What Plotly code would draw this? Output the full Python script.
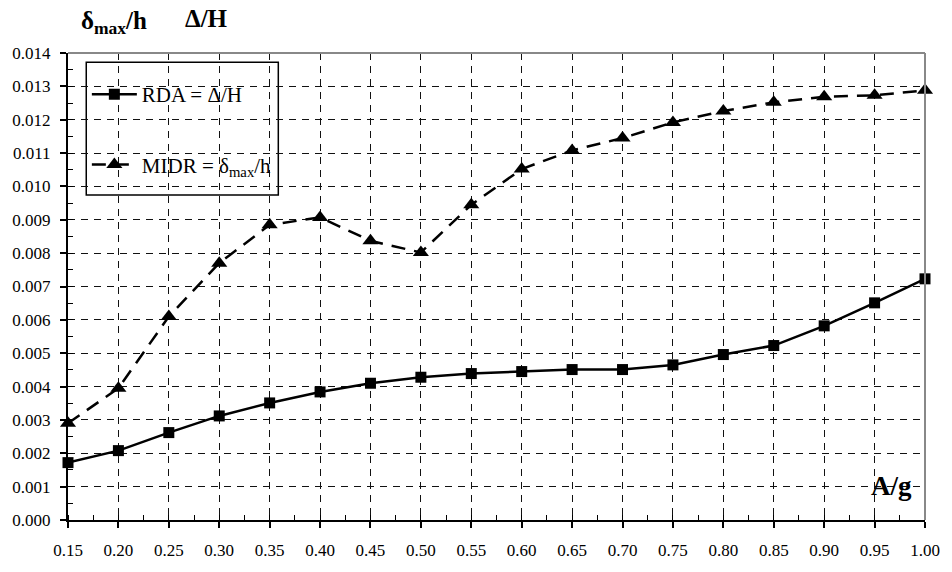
import plotly.graph_objects as go

# Data
ag = [0.15, 0.20, 0.25, 0.30, 0.35, 0.40, 0.45, 0.50, 0.55, 0.60,
      0.65, 0.70, 0.75, 0.80, 0.85, 0.90, 0.95, 1.00]
rda = [0.00172, 0.00208, 0.00262, 0.00312, 0.00351, 0.00384, 0.00410, 0.00428, 0.00439,
       0.00445, 0.00451, 0.00451, 0.00465, 0.00496, 0.00523, 0.00582, 0.00651, 0.00723]
midr = [0.00290, 0.00395, 0.00610, 0.00770, 0.00885, 0.00907, 0.00837, 0.00802, 0.00945,
        0.01052, 0.01108, 0.01145, 0.01192, 0.01226, 0.01252, 0.01269, 0.01273, 0.01288]
x_ticks = [0.15, 0.20, 0.25, 0.30, 0.35, 0.40, 0.45, 0.50, 0.55, 0.60,
           0.65, 0.70, 0.75, 0.80, 0.85, 0.90, 0.95, 1.00]

FONT = "Liberation Serif, Times New Roman, serif"

fig = go.Figure()
fig.add_trace(go.Scatter(
    x=ag, y=rda, mode="lines+markers", name="RDA = Δ/H",
    legendgroup="a",
    line=dict(color="black", width=2.5),
    marker=dict(symbol="square", size=11, color="black"),
    cliponaxis=False,
))
fig.add_trace(go.Scatter(
    x=ag, y=midr, mode="lines+markers", name="MIDR = δ<sub>max</sub>/h",
    legendgroup="b",
    line=dict(color="black", width=2.5, dash="14px,9px"),
    marker=dict(symbol="triangle-up", size=14, color="black"),
    cliponaxis=False,
))

fig.update_layout(
    width=952, height=572,
    margin=dict(l=67, r=17, t=53, b=41),
    paper_bgcolor="white", plot_bgcolor="white",
    font=dict(family=FONT, size=17, color="black"),
    showlegend=True,
    legend=dict(
        x=0.022, y=0.955, xanchor="left", yanchor="top",
        bgcolor="rgba(0,0,0,0)", borderwidth=0,
        font=dict(family=FONT, size=21, color="black"),
        traceorder="grouped", tracegroupgap=40, itemwidth=45,
    ),
    xaxis=dict(
        range=[0.15, 1.0], tickvals=x_ticks,
        ticktext=[f"{v:.2f}" for v in x_ticks],
        showline=True, linecolor="black", linewidth=2,
        ticks="outside", ticklen=6, tickwidth=1.5, tickcolor="black",
        ticklabelstandoff=8,
        showgrid=True, gridcolor="#111", gridwidth=1, griddash="7px,6px",
        zeroline=False,
        tickfont=dict(family=FONT, size=17, color="black"),
        minor=dict(dtick=0.025, tick0=0.15, ticks="inside", ticklen=5,
                   tickcolor="black", tickwidth=1, showgrid=False),
    ),
    yaxis=dict(
        range=[0, 0.014], dtick=0.001, tick0=0, tickformat=".3f",
        showline=True, linecolor="black", linewidth=2,
        ticks="outside", ticklen=6, tickwidth=1.5, tickcolor="black",
        ticklabelstandoff=6,
        showgrid=True, gridcolor="#111", gridwidth=1, griddash="7px,6px",
        zeroline=False,
        tickfont=dict(family=FONT, size=17, color="black"),
        minor=dict(dtick=0.0005, tick0=0, ticks="inside", ticklen=5,
                   tickcolor="black", tickwidth=1, showgrid=False),
    ),
    shapes=[
        dict(type="line", xref="paper", yref="paper", x0=0, x1=1, y0=1, y1=1,
             line=dict(color="#888", width=2), layer="above"),
        dict(type="line", xref="paper", yref="paper", x0=1, x1=1, y0=0, y1=1,
             line=dict(color="#888", width=2), layer="above"),
        dict(type="rect", xref="paper", yref="paper",
             x0=0.0213, x1=0.2454, y0=0.696, y1=0.980,
             line=dict(color="black", width=1.5), fillcolor="white", layer="below"),
    ],
    annotations=[
        dict(text="<b>δ<sub>max</sub>/h</b>", xref="paper", yref="paper",
             x=0.0127, y=1.066, xanchor="left", yanchor="middle", showarrow=False,
             font=dict(family=FONT, size=25, color="black")),
        dict(text="<b>Δ/H</b>", xref="paper", yref="paper",
             x=0.134, y=1.074, xanchor="left", yanchor="middle", showarrow=False,
             font=dict(family=FONT, size=25, color="black")),
        dict(text="<b>A/g</b>", xref="paper", yref="paper",
             x=0.961, y=0.073, xanchor="center", yanchor="middle", showarrow=False,
             font=dict(family=FONT, size=27, color="black")),
    ],
)

fig.write_html("out.html")
